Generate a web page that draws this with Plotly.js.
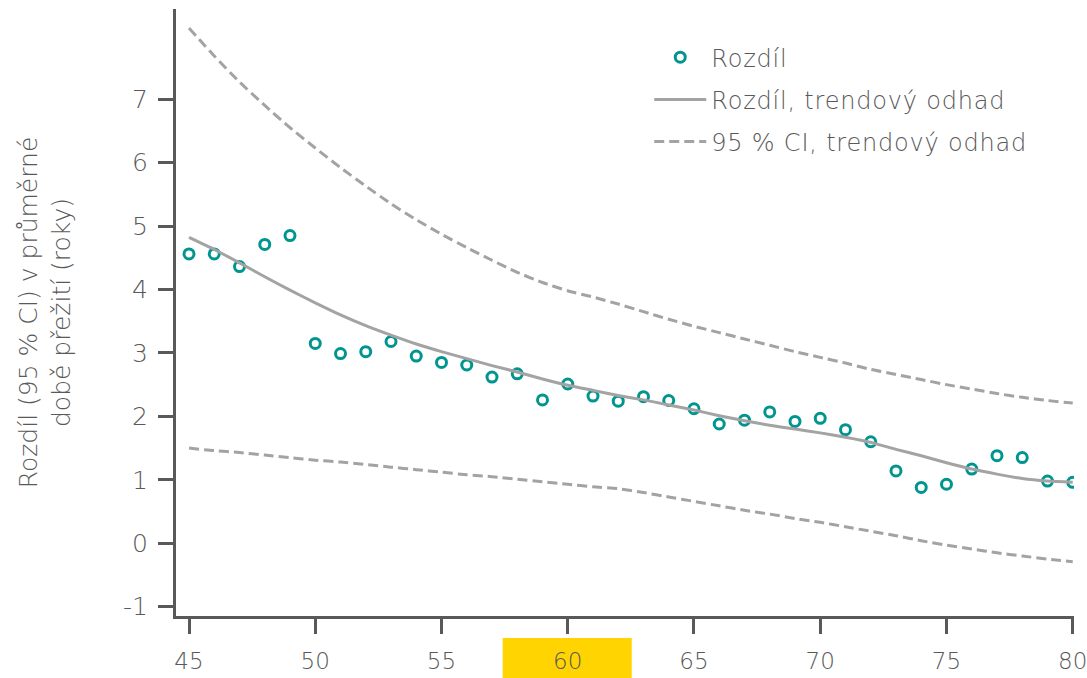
<!DOCTYPE html>
<html>
<head>
<meta charset="utf-8">
<script src="https://cdn.plot.ly/plotly-3.0.1.min.js"></script>
<style>html,body{margin:0;padding:0;background:#fff;}#chart{width:1087px;height:678px;}
.legendtext{letter-spacing:0.8px;}
</style>
</head>
<body>
<div id="chart"></div>
<script>
const ages = [45,46,47,48,49,50,51,52,53,54,55,56,57,58,59,60,61,62,63,64,65,66,67,68,69,70,71,72,73,74,75,76,77,78,79,80];
const diff = [4.56,4.56,4.36,4.71,4.85,3.15,2.99,3.02,3.18,2.95,2.85,2.81,2.62,2.67,2.26,2.51,2.32,2.24,2.31,2.25,2.12,1.88,1.94,2.07,1.92,1.97,1.79,1.60,1.14,0.88,0.93,1.17,1.38,1.35,0.98,0.96];
const trend = [4.82,4.63,4.42,4.20,3.99,3.79,3.60,3.43,3.28,3.14,3.02,2.91,2.80,2.70,2.59,2.49,2.41,2.33,2.26,2.18,2.10,2.01,1.93,1.86,1.80,1.74,1.67,1.59,1.48,1.38,1.27,1.17,1.09,1.02,0.98,0.96];
const ciUpper = [8.12,7.68,7.27,6.90,6.55,6.23,5.92,5.63,5.35,5.10,4.87,4.66,4.46,4.27,4.11,3.98,3.88,3.77,3.65,3.53,3.42,3.32,3.22,3.12,3.02,2.93,2.84,2.74,2.66,2.58,2.50,2.43,2.36,2.30,2.25,2.21];
const ciLower = [1.50,1.46,1.43,1.39,1.35,1.31,1.28,1.24,1.20,1.16,1.12,1.08,1.05,1.01,0.97,0.93,0.89,0.86,0.80,0.73,0.66,0.59,0.52,0.46,0.39,0.33,0.26,0.19,0.12,0.04,-0.03,-0.09,-0.15,-0.20,-0.25,-0.29];
const yTicks = [-1,0,1,2,3,4,5,6,7];
const xTicks = [45,50,55,60,65,70,75,80];
const names = ["Rozdíl", "Rozdíl, trendový odhad", "95 % CI, trendový odhad"];
const yTitle = "Rozdíl (95 % CI) v průměrné<br>době přežití (roky)";

const FONT = '"Century Gothic", "URW Gothic", "DejaVu Sans", sans-serif';
const TXT = '#595959';
const GRAY = '#a3a3a3';
const TEAL = '#00958f';

const traces = [
  {x: ages, y: diff, type: 'scatter', mode: 'markers', name: names[0], legendgroup: 'a',
   marker: {symbol: 'circle-open', size: 10, color: TEAL, line: {color: TEAL, width: 3}}},
  {x: ages, y: trend, type: 'scatter', mode: 'lines', name: names[1], legendgroup: 'b',
   line: {color: GRAY, width: 3, shape: 'spline', smoothing: 0.6}},
  {x: ages, y: ciUpper, type: 'scatter', mode: 'lines', name: names[2], legendgroup: 'c',
   line: {color: GRAY, width: 3, dash: '10px,5px', shape: 'spline', smoothing: 0.6}},
  {x: ages, y: ciLower, type: 'scatter', mode: 'lines', name: names[2], legendgroup: 'c', showlegend: false,
   line: {color: GRAY, width: 3, dash: '10px,5px', shape: 'spline', smoothing: 0.6}}
];

const layout = {
  width: 1087, height: 678,
  margin: {l: 176, r: 13, t: 9, b: 62},
  paper_bgcolor: '#fff', plot_bgcolor: '#fff',
  font: {family: FONT, color: TXT, size: 22, weight: 300},
  showlegend: true,
  legend: {x: 0.527, y: 0.957, xanchor: 'left', yanchor: 'top', bgcolor: 'rgba(0,0,0,0)',
           font: {family: FONT, size: 24, color: TXT, weight: 300}, traceorder: 'grouped', tracegroupgap: 8,
           itemwidth: 52},
  xaxis: {range: [44.485, 80.05], tickvals: xTicks, ticktext: xTicks.map(String),
          showgrid: false, zeroline: false, showline: true, linecolor: '#595959', linewidth: 3,
          ticks: 'outside', ticklen: 15, tickwidth: 3, tickcolor: '#595959', ticklabeloverflow: 'allow',
          tickfont: {family: FONT, size: 23, color: TXT, weight: 300}, ticklabelstandoff: 7},
  yaxis: {range: [-1.146, 8.42], tickvals: yTicks, ticktext: yTicks.map(v => v < 0 ? '-' + Math.abs(v) : String(v)),
          showgrid: false, zeroline: false, showline: true, linecolor: '#595959', linewidth: 3,
          ticks: 'outside', ticklen: 15, tickwidth: 3, tickcolor: '#595959',
          tickfont: {family: FONT, size: 25, color: TXT, weight: 300}, ticklabelstandoff: 5,
          title: {text: yTitle, font: {family: FONT, size: 25, color: TXT, weight: 300}, standoff: 46}},
  shapes: [{type: 'rect', xref: 'paper', yref: 'paper', x0: 0.3638, x1: 0.5075, y0: -0.12, y1: -0.0362,
            fillcolor: '#ffd400', line: {width: 0}, layer: 'below'}]
};

Plotly.newPlot('chart', traces, layout, {displayModeBar: false, staticPlot: true});
</script>
</body>
</html>
